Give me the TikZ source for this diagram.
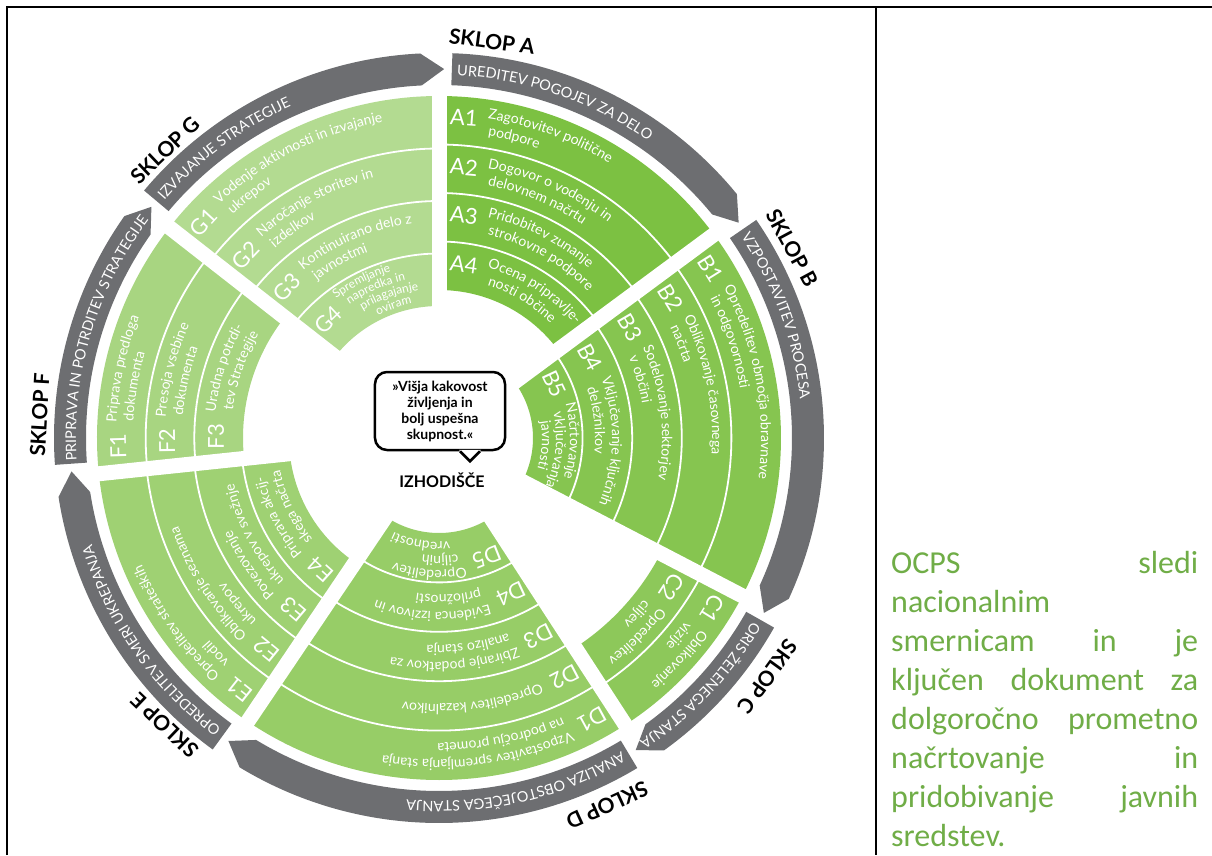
\documentclass[tikz,border=0pt]{standalone}
\usepackage{fontspec}
\setmainfont{Lato}
\newfontfamily\notefont{Carlito}
\usetikzlibrary{decorations.text}

\definecolor{sklopA}{HTML}{7CC142}
\definecolor{sklopB}{HTML}{86C550}
\definecolor{sklopC}{HTML}{8DC85A}
\definecolor{sklopD}{HTML}{97CD67}
\definecolor{sklopE}{HTML}{9FD173}
\definecolor{sklopF}{HTML}{A8D581}
\definecolor{sklopG}{HTML}{B3DB91}
\definecolor{sklopgray}{HTML}{6D6E71}
\definecolor{notegreen}{HTML}{70AD47}

\newcommand{\bandfont}{\fontsize{14pt}{16pt}\selectfont}
\newcommand{\smallbandfont}{\fontsize{12pt}{14pt}\selectfont}
\newcommand{\grayfont}{\fontsize{14.5pt}{16pt}\selectfont}

\tikzset{
  bandtext/.style={decorate, decoration={text along path, text align=left, text color=white, text={|\bandfont|#1}}},
  smallbandtext/.style={decorate, decoration={text along path, text align=left, text color=white, text={|\smallbandfont|#1}}},
  graytext/.style={decorate, decoration={text along path, text align=left, text color=white, text={|\grayfont|#1}}},
  codelabel/.style={text=white, font=\fontsize{22pt}{24pt}\selectfont, inner sep=0pt},
  sklop/.style={font=\bfseries\fontsize{21pt}{23pt}\selectfont, inner sep=0pt},
  bandsep/.style={white, line width=1.8pt},
  gapline/.style={white, line width=15pt},
  noteline/.style={anchor=base west, text=notegreen, font=\notefont\fontsize{32pt}{39pt}\selectfont, inner sep=0pt},
}

% text on a clockwise arc: [offset px]{style}{start angle}{radius}{text}
\newcommand{\arctext}[5][49]{%
  \pgfmathsetmacro{\lineangle}{#3-#1/#4*57.2958}%
  \pgfmathsetmacro{\lineend}{\lineangle-170}%
  \path[#2={#5}] (\lineangle:#4) arc[start angle=\lineangle, end angle=\lineend, radius=#4pt];}
% step code: {start angle}{radius}{name}{code}
\newcommand{\bandcode}[4]{%
  \pgfmathsetmacro{\codeangle}{#1-25/#2*57.2958}%
  \pgfmathsetmacro{\coderot}{\codeangle-90}%
  \node[codelabel, rotate=\coderot] (#3) at (\codeangle:#2) {#4};}

\begin{document}
\begin{tikzpicture}[x=1pt,y=1pt]
\useasboundingbox (-439,-417) rectangle (773,438);

% green sectors
\fill[sklopA] (90:342) arc[start angle=90, end angle=36.5, radius=342pt] -- (36.5:148) arc[start angle=36.5, end angle=90, radius=148pt] -- cycle;
\fill[sklopB] (36.5:342) arc[start angle=36.5, end angle=-27.5, radius=342pt] -- (-27.5:94) arc[start angle=-27.5, end angle=36.5, radius=94pt] -- cycle;
\fill[sklopC] (-27.5:342) arc[start angle=-27.5, end angle=-57, radius=342pt] -- (-57:250) arc[start angle=-57, end angle=-27.5, radius=250pt] -- cycle;
\fill[sklopD] (-57:342) arc[start angle=-57, end angle=-124, radius=342pt] -- (-124:95) arc[start angle=-124, end angle=-57, radius=95pt] -- cycle;
\fill[sklopE] (236:342) arc[start angle=236, end angle=186, radius=342pt] -- (186:150) arc[start angle=186, end angle=236, radius=150pt] -- cycle;
\fill[sklopF] (186:342) arc[start angle=186, end angle=142, radius=342pt] -- (142:196) arc[start angle=142, end angle=186, radius=196pt] -- cycle;
\fill[sklopG] (142:342) arc[start angle=142, end angle=90, radius=342pt] -- (90:132) arc[start angle=90, end angle=142, radius=132pt] -- cycle;

% band separators
\draw[bandsep] (90:293.5) arc[start angle=90, end angle=36.5, radius=293.5pt];
\draw[bandsep] (90:245) arc[start angle=90, end angle=36.5, radius=245pt];
\draw[bandsep] (90:196.5) arc[start angle=90, end angle=36.5, radius=196.5pt];
\draw[bandsep] (36.5:292.4) arc[start angle=36.5, end angle=-27.5, radius=292.4pt];
\draw[bandsep] (36.5:242.8) arc[start angle=36.5, end angle=-27.5, radius=242.8pt];
\draw[bandsep] (36.5:193.2) arc[start angle=36.5, end angle=-27.5, radius=193.2pt];
\draw[bandsep] (36.5:143.6) arc[start angle=36.5, end angle=-27.5, radius=143.6pt];
\draw[bandsep] (-27.5:296) arc[start angle=-27.5, end angle=-57, radius=296pt];
\draw[bandsep] (-57:292.6) arc[start angle=-57, end angle=-124, radius=292.6pt];
\draw[bandsep] (-57:243.2) arc[start angle=-57, end angle=-124, radius=243.2pt];
\draw[bandsep] (-57:193.8) arc[start angle=-57, end angle=-124, radius=193.8pt];
\draw[bandsep] (-57:144.4) arc[start angle=-57, end angle=-124, radius=144.4pt];
\draw[bandsep] (236:294) arc[start angle=236, end angle=186, radius=294pt];
\draw[bandsep] (236:246) arc[start angle=236, end angle=186, radius=246pt];
\draw[bandsep] (236:198) arc[start angle=236, end angle=186, radius=198pt];
\draw[bandsep] (186:293.3) arc[start angle=186, end angle=142, radius=293.3pt];
\draw[bandsep] (186:244.7) arc[start angle=186, end angle=142, radius=244.7pt];
\draw[bandsep] (142:289.5) arc[start angle=142, end angle=90, radius=289.5pt];
\draw[bandsep] (142:237) arc[start angle=142, end angle=90, radius=237pt];
\draw[bandsep] (142:184.5) arc[start angle=142, end angle=90, radius=184.5pt];

% gaps between the sectors
\draw[gapline] (0,0) -- (90:347);
\draw[gapline] (0,0) -- (36.5:347);
\draw[gapline] (0,0) -- (-27.5:347);
\draw[gapline] (0,0) -- (-57:347);
\draw[gapline] (0,0) -- (-124:347);
\draw[gapline] (0,0) -- (186:347);
\draw[gapline] (0,0) -- (142:347);

% SKLOP A
\bandcode{90}{321}{a1}{A1}
\arctext{bandtext}{90}{323}{Zagotovitev politične}
\arctext{bandtext}{90}{306}{podpore}
\bandcode{90}{272}{a2}{A2}
\arctext{bandtext}{90}{274}{Dogovor o vodenju in}
\arctext{bandtext}{90}{257}{delovnem načrtu}
\bandcode{90}{224}{a3}{A3}
\arctext{bandtext}{90}{226}{Pridobitev zunanje}
\arctext{bandtext}{90}{209}{strokovne podpore}
\bandcode{90}{175}{a4}{A4}
\arctext{bandtext}{90}{177}{Ocena pripravlje-}
\arctext{bandtext}{90}{160}{nosti občine}

% SKLOP B
\bandcode{36.5}{320}{b1}{B1}
\arctext{bandtext}{36.5}{322}{Opredelitev območja obravnave}
\arctext{bandtext}{36.5}{305}{in odgovornosti}
\bandcode{36.5}{271}{b2}{B2}
\arctext{bandtext}{36.5}{273}{Oblikovanje časovnega}
\arctext{bandtext}{36.5}{256}{načrta}
\bandcode{36.5}{221}{b3}{B3}
\arctext{bandtext}{36.5}{223}{Sodelovanje sektorjev}
\arctext{bandtext}{36.5}{206}{v občini}
\bandcode{36.5}{171}{b4}{B4}
\arctext{bandtext}{36.5}{173}{Vključevanje ključnih}
\arctext{bandtext}{36.5}{156}{deležnikov}
\bandcode{36.5}{127}{b5}{B5}
\arctext{bandtext}{36.5}{131}{Načrtovanje}
\arctext{bandtext}{36.5}{117}{vključevanja}
\arctext{bandtext}{36.5}{103}{javnosti}

% SKLOP C
\bandcode{-27.5}{322}{c1}{C1}
\arctext{bandtext}{-27.5}{324}{Oblikovanje}
\arctext{bandtext}{-27.5}{307}{vizije}
\bandcode{-27.5}{276}{c2}{C2}
\arctext{bandtext}{-27.5}{278}{Opredelitev}
\arctext{bandtext}{-27.5}{261}{ciljev}

% SKLOP D
\bandcode{-57}{320}{d1}{D1}
\arctext{bandtext}{-57}{322}{Vzpostavitev spremljanja stanja}
\arctext{bandtext}{-57}{305}{na področju prometa}
\bandcode{-57}{270}{d2}{D2}
\arctext{bandtext}{-57}{266}{Opredelitev kazalnikov}
\bandcode{-57}{222}{d3}{D3}
\arctext{bandtext}{-57}{224}{Zbiranje podatkov za}
\arctext{bandtext}{-57}{207}{analizo stanja}
\bandcode{-57}{172}{d4}{D4}
\arctext{bandtext}{-57}{174}{Evidenca izzivov in}
\arctext{bandtext}{-57}{157}{priložnosti}
\bandcode{-57}{128}{d5}{D5}
\arctext{bandtext}{-57}{132}{Opredelitev}
\arctext{bandtext}{-57}{118}{ciljnih}
\arctext{bandtext}{-57}{104}{vrednosti}

% SKLOP E
\bandcode{236}{321}{e1}{E1}
\arctext{bandtext}{236}{323}{Opredelitev strateških}
\arctext{bandtext}{236}{306}{vodil}
\bandcode{236}{273}{e2}{E2}
\arctext{bandtext}{236}{275}{Oblikovanje seznama}
\arctext{bandtext}{236}{258}{ukrepov}
\bandcode{236}{225}{e3}{E3}
\arctext{bandtext}{236}{227}{Povezovanje}
\arctext{bandtext}{236}{210}{ukrepov v svežnje}
\bandcode{236}{177}{e4}{E4}
\arctext{bandtext}{236}{179}{Priprava akcij-}
\arctext{bandtext}{236}{162}{skega načrta}

% SKLOP F
\bandcode{186}{321}{f1}{F1}
\arctext{bandtext}{186}{323}{Priprava predloga}
\arctext{bandtext}{186}{306}{dokumenta}
\bandcode{186}{272}{f2}{F2}
\arctext{bandtext}{186}{274}{Presoja vsebine}
\arctext{bandtext}{186}{257}{dokumenta}
\bandcode{186}{223}{f3}{F3}
\arctext{bandtext}{186}{225}{Uradna potrdi-}
\arctext{bandtext}{186}{208}{tev Strategije}

% SKLOP G
\bandcode{142}{319}{g1}{G1}
\arctext{bandtext}{142}{321}{Vodenje aktivnosti in izvajanje}
\arctext{bandtext}{142}{304}{ukrepov}
\bandcode{142}{266}{g2}{G2}
\arctext{bandtext}{142}{268}{Naročanje storitev in}
\arctext{bandtext}{142}{251}{izdelkov}
\bandcode{142}{214}{g3}{G3}
\arctext{bandtext}{142}{216}{Kontinuirano delo z}
\arctext{bandtext}{142}{199}{javnostmi}
\bandcode{142}{162}{g4}{G4}
\arctext[47]{smallbandtext}{142}{173}{Spremljanje}
\arctext[51]{smallbandtext}{142}{161}{napredka in}
\arctext[55]{smallbandtext}{142}{149}{prilagajanje}
\arctext[61]{smallbandtext}{142}{137}{oviram}

% grey arrows
\fill[sklopgray] (88:385) arc[start angle=88, end angle=39.3, radius=385pt] -- (35.7:369) -- (39.3:353) arc[start angle=39.3, end angle=88, radius=353pt] -- cycle;
\fill[sklopgray] (34.5:385) arc[start angle=34.5, end angle=-24.7, radius=385pt] -- (-28.3:369) -- (-24.7:353) arc[start angle=-24.7, end angle=34.5, radius=353pt] -- cycle;
\fill[sklopgray] (-29.5:385) arc[start angle=-29.5, end angle=-54.2, radius=385pt] -- (-57.8:369) -- (-54.2:353) arc[start angle=-54.2, end angle=-29.5, radius=353pt] -- cycle;
\fill[sklopgray] (-59:385) arc[start angle=-59, end angle=-121.2, radius=385pt] -- (-124.8:369) -- (-121.2:353) arc[start angle=-121.2, end angle=-59, radius=353pt] -- cycle;
\fill[sklopgray] (234:385) arc[start angle=234, end angle=188.8, radius=385pt] -- (185.2:369) -- (188.8:353) arc[start angle=188.8, end angle=234, radius=353pt] -- cycle;
\fill[sklopgray] (184:385) arc[start angle=184, end angle=144.8, radius=385pt] -- (141.2:369) -- (144.8:353) arc[start angle=144.8, end angle=184, radius=353pt] -- cycle;
\fill[sklopgray] (140:385) arc[start angle=140, end angle=92.8, radius=385pt] -- (89.2:369) -- (92.8:353) arc[start angle=92.8, end angle=140, radius=353pt] -- cycle;

\arctext[18]{graytext}{90}{363}{UREDITEV POGOJEV ZA DELO}
\arctext[18]{graytext}{36.5}{363}{VZPOSTAVITEV PROCESA}
\arctext[18]{graytext}{-27.5}{363}{ORIS ŽELENEGA STANJA}
\arctext[18]{graytext}{-57}{363}{ANALIZA OBSTOJEČEGA STANJA}
\arctext[18]{graytext}{236}{363}{OPREDELITEV SMERI UKREPANJA}
\arctext[15]{graytext}{186}{363}{PRIPRAVA IN POTRDITEV STRATEGIJE}
\arctext[18]{graytext}{142}{363}{IZVAJANJE STRATEGIJE}

% SKLOP labels
\node[sklop, rotate=-7.6] (sklopa) at (82.4:400) {SKLOP A};
\node[sklop, rotate=-61.7] (sklopb) at (28.3:401) {SKLOP B};
\node[sklop, rotate=-126] (sklopc) at (-36:406) {SKLOP C};
\node[sklop, rotate=-155.4] (sklopd) at (-65.4:404) {SKLOP D};
\node[sklop, rotate=136.3] (sklope) at (226.3:397) {SKLOP E};
\node[sklop, rotate=86.7] (sklopf) at (176.7:400) {SKLOP F};
\node[sklop, rotate=43.6] (sklopg) at (133.6:397) {SKLOP G};

% speech bubble
\node[draw, line width=2.5pt, rounded corners=12pt, minimum width=130pt, minimum height=78pt, align=center, fill=white, font=\bfseries\fontsize{14pt}{16pt}\selectfont] (bubble) at (1,27) {»Višja kakovost\\življenja in\\bolj uspešna\\skupnost.«};
\fill[white] (bubble.south) ++(19,1.3) -- ++(11,-11.3) -- ++(11,11.3) -- cycle;
\draw[line width=2.5pt] (bubble.south) ++(20,0) -- ++(10,-10) -- ++(10,10);
\node[font=\bfseries\fontsize{16pt}{18pt}\selectfont] (izhodisce) at (3,-42) {IZHODIŠČE};

% table frame
\draw[line width=2.5pt] (-432,-417) -- (-432,431) -- (773,431);
\draw[line width=2.5pt] (437,431) -- (437,-417);

% note
\node[noteline] (note1) at (452,-135) {\makebox[307pt][s]{OCPS sledi}};
\node[noteline] (note2) at (452,-174) {nacionalnim};
\node[noteline] (note3) at (452,-213) {\makebox[307pt][s]{smernicam in je}};
\node[noteline] (note4) at (452,-252) {\makebox[307pt][s]{ključen dokument za}};
\node[noteline] (note5) at (452,-291) {\makebox[307pt][s]{dolgoročno prometno}};
\node[noteline] (note6) at (452,-330) {\makebox[307pt][s]{načrtovanje in}};
\node[noteline] (note7) at (452,-369) {\makebox[307pt][s]{pridobivanje javnih}};
\node[noteline] (note8) at (452,-408) {sredstev.};

\end{tikzpicture}
\end{document}
